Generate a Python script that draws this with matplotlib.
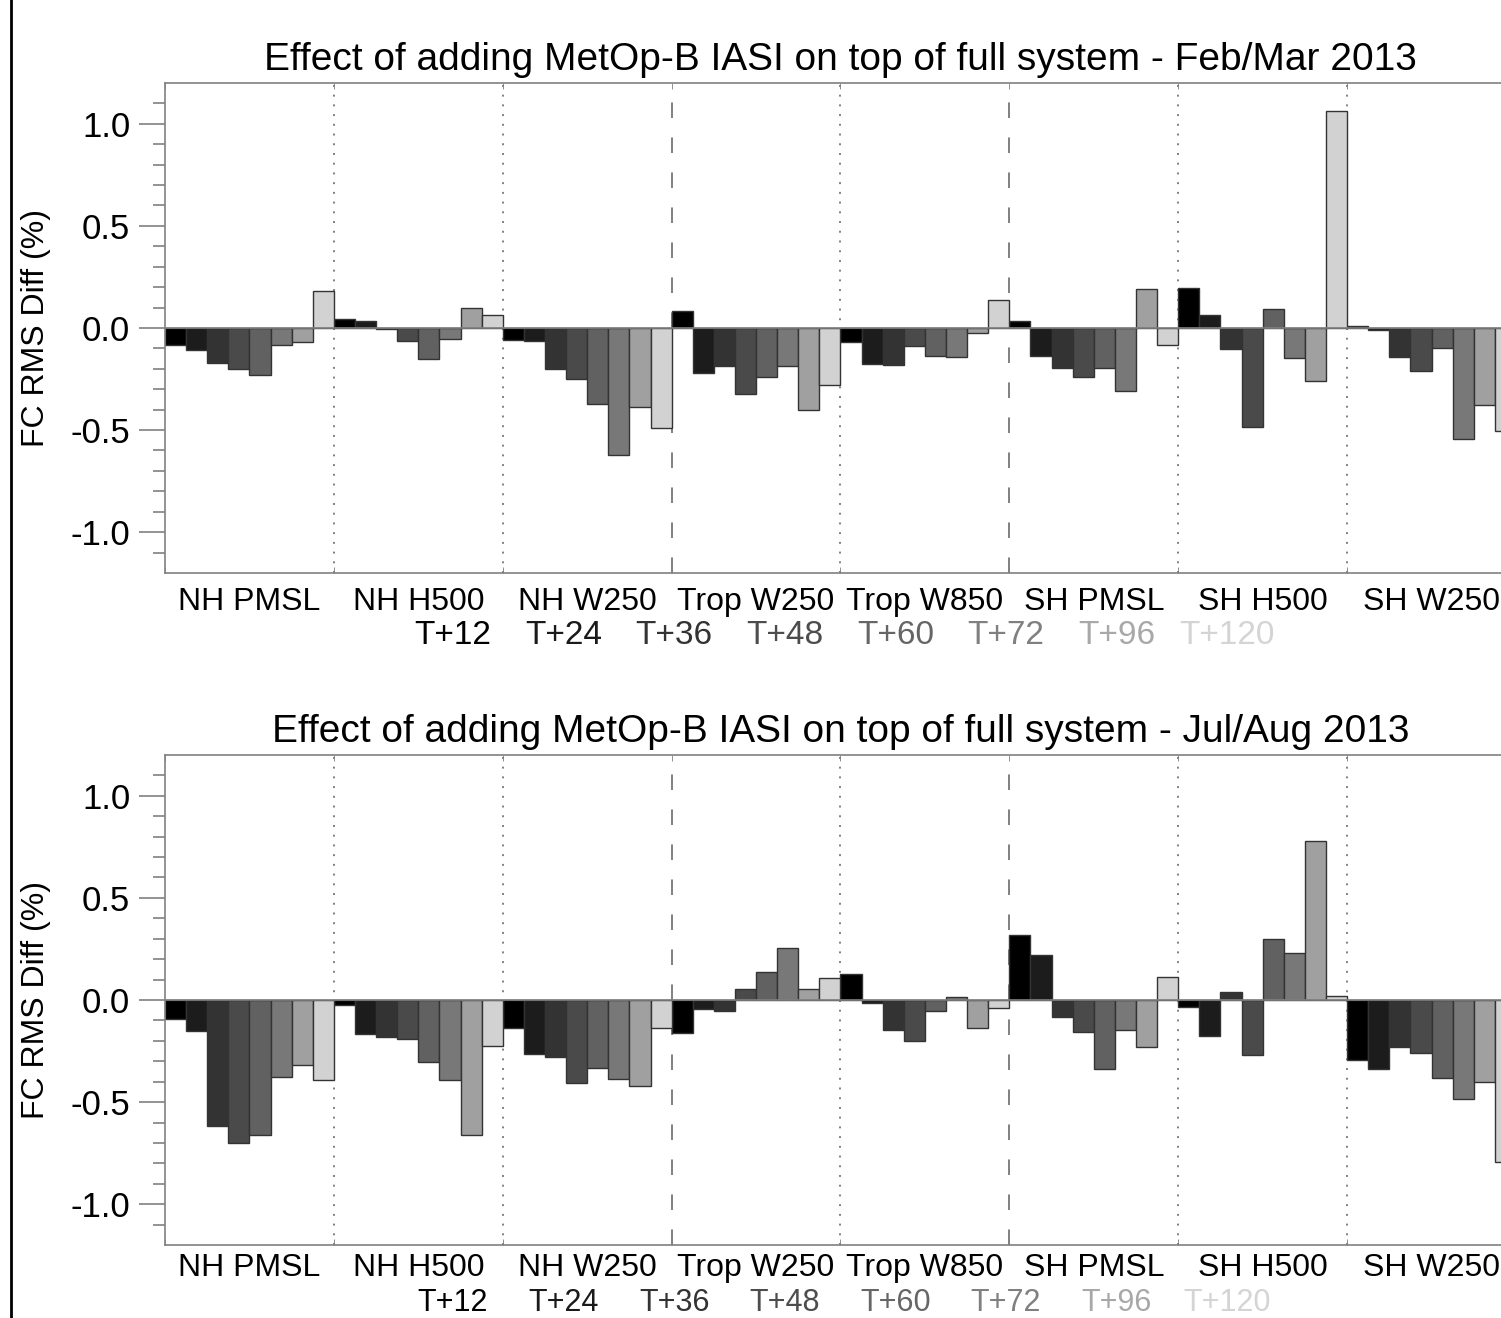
import matplotlib
matplotlib.use("Agg")
import matplotlib.pyplot as plt
from matplotlib.lines import Line2D
import numpy as np

plt.rcParams['font.family'] = ['Liberation Sans', 'DejaVu Sans']

groups = ["NH PMSL", "NH H500", "NH W250", "Trop W250", "Trop W850",
          "SH PMSL", "SH H500", "SH W250"]
leads = ["T+12", "T+24", "T+36", "T+48", "T+60", "T+72", "T+96", "T+120"]
lead_colors = ["#000000", "#1c1c1c", "#333333", "#4a4a4a", "#616161",
               "#787878", "#a0a0a0", "#d2d2d2"]
text_colors = ["#000000", "#1a1a1a", "#333333", "#4d4d4d", "#666666",
               "#808080", "#a8a8a8", "#d4d4d4"]

# rows = groups, cols = forecast lead times
feb_mar = [
    [-0.085, -0.11, -0.173, -0.201, -0.23, -0.085, -0.069, 0.183],
    [0.042, 0.034, -0.007, -0.064, -0.15, -0.055, 0.10, 0.062],
    [-0.059, -0.064, -0.201, -0.248, -0.374, -0.62, -0.388, -0.488],
    [0.083, -0.222, -0.185, -0.325, -0.242, -0.188, -0.402, -0.281],
    [-0.069, -0.175, -0.181, -0.087, -0.136, -0.14, -0.026, 0.139],
    [0.034, -0.136, -0.196, -0.238, -0.198, -0.309, 0.191, -0.085],
    [0.195, 0.064, -0.102, -0.484, 0.092, -0.149, -0.261, 1.063],
    [0.008, -0.008, -0.141, -0.209, -0.10, -0.543, -0.375, -0.504],
]
jul_aug = [
    [-0.095, -0.15, -0.618, -0.699, -0.659, -0.376, -0.32, -0.392],
    [-0.023, -0.168, -0.18, -0.193, -0.302, -0.392, -0.659, -0.225],
    [-0.136, -0.266, -0.278, -0.405, -0.332, -0.385, -0.42, -0.139],
    [-0.16, -0.046, -0.052, 0.052, 0.137, 0.255, 0.055, 0.109],
    [0.126, -0.016, -0.147, -0.20, -0.052, 0.013, -0.136, -0.039],
    [0.32, 0.222, -0.085, -0.155, -0.338, -0.149, -0.229, 0.111],
    [-0.036, -0.177, 0.04, -0.268, 0.30, 0.228, 0.781, 0.022],
    [-0.294, -0.336, -0.232, -0.258, -0.382, -0.485, -0.403, -0.795],
]
titles = ["Effect of adding MetOp-B IASI on top of full system - Feb/Mar 2013",
          "Effect of adding MetOp-B IASI on top of full system - Jul/Aug 2013"]

W, H = 1501, 1318
fig = plt.figure(figsize=(W / 100, H / 100), dpi=100)

# left frame line of the original page
fig.add_artist(Line2D([11 / W, 11 / W], [0, 1], color="black", lw=2,
                      transform=fig.transFigure))

axl, axw = 165 / W, 1351 / W
# (axes top px, axes bottom px, key offset px, xtick pad, key fontsize)
panels = [(83, 573, 63, 10, 24), (755, 1245, 58, 6, 22)]
ng, nl = len(groups), len(leads)
grey = "#808080"

for (top, bot, keyoff, xpad, keyfs), data, title in zip(panels, [feb_mar, jul_aug], titles):
    ax = fig.add_axes([axl, 1 - bot / H, axw, (bot - top) / H])
    vals = np.array(data)
    for j in range(nl):
        x = np.arange(ng) * nl + j + 0.5
        ax.bar(x, vals[:, j], width=1.0, color=lead_colors[j],
               edgecolor="#333333", linewidth=1.0, zorder=2)
    ax.axhline(0, color=grey, lw=1.2, zorder=3)
    for g in range(1, ng):
        ls = (0, (8, 10)) if g in (3, 5) else (0, (1, 4))
        ax.axvline(g * nl, color=grey, lw=1.4, ls=ls, zorder=1)

    ax.set_xlim(0, ng * nl)
    ax.set_ylim(-1.2, 1.2)
    ax.set_yticks([-1.0, -0.5, 0.0, 0.5, 1.0])
    ax.set_yticklabels(["-1.0", "-0.5", "0.0", "0.5", "1.0"])
    ax.set_yticks(np.arange(-1.1, 1.15, 0.1), minor=True)
    ax.tick_params(axis="y", which="major", direction="out", length=19,
                   width=1.2, color=grey, labelsize=25, pad=6)
    ax.tick_params(axis="y", which="minor", direction="out", length=9,
                   width=1.2, color=grey)
    ax.set_xticks(np.arange(ng) * nl + nl / 2)
    ax.set_xticklabels(groups)
    ax.set_xticks(np.arange(ng + 1) * nl, minor=True)
    ax.tick_params(axis="x", which="major", length=0, labelsize=23, pad=xpad)
    ax.tick_params(axis="x", which="minor", direction="in", length=4,
                   color=grey, top=True)
    for s in ax.spines.values():
        s.set_color(grey)
        s.set_linewidth(1.2)
    ax.set_ylabel("FC RMS Diff (%)", fontsize=23, labelpad=14)
    ax.set_title(title, fontsize=28, pad=9)

    # colour key for lead times
    for j, (lab, c) in enumerate(zip(leads, text_colors)):
        fig.text((453 + j * 110.6) / W, 1 - (bot + keyoff) / H, lab,
                 color=c, fontsize=keyfs, ha="center", va="center")

fig.savefig("out.png", dpi=100)
